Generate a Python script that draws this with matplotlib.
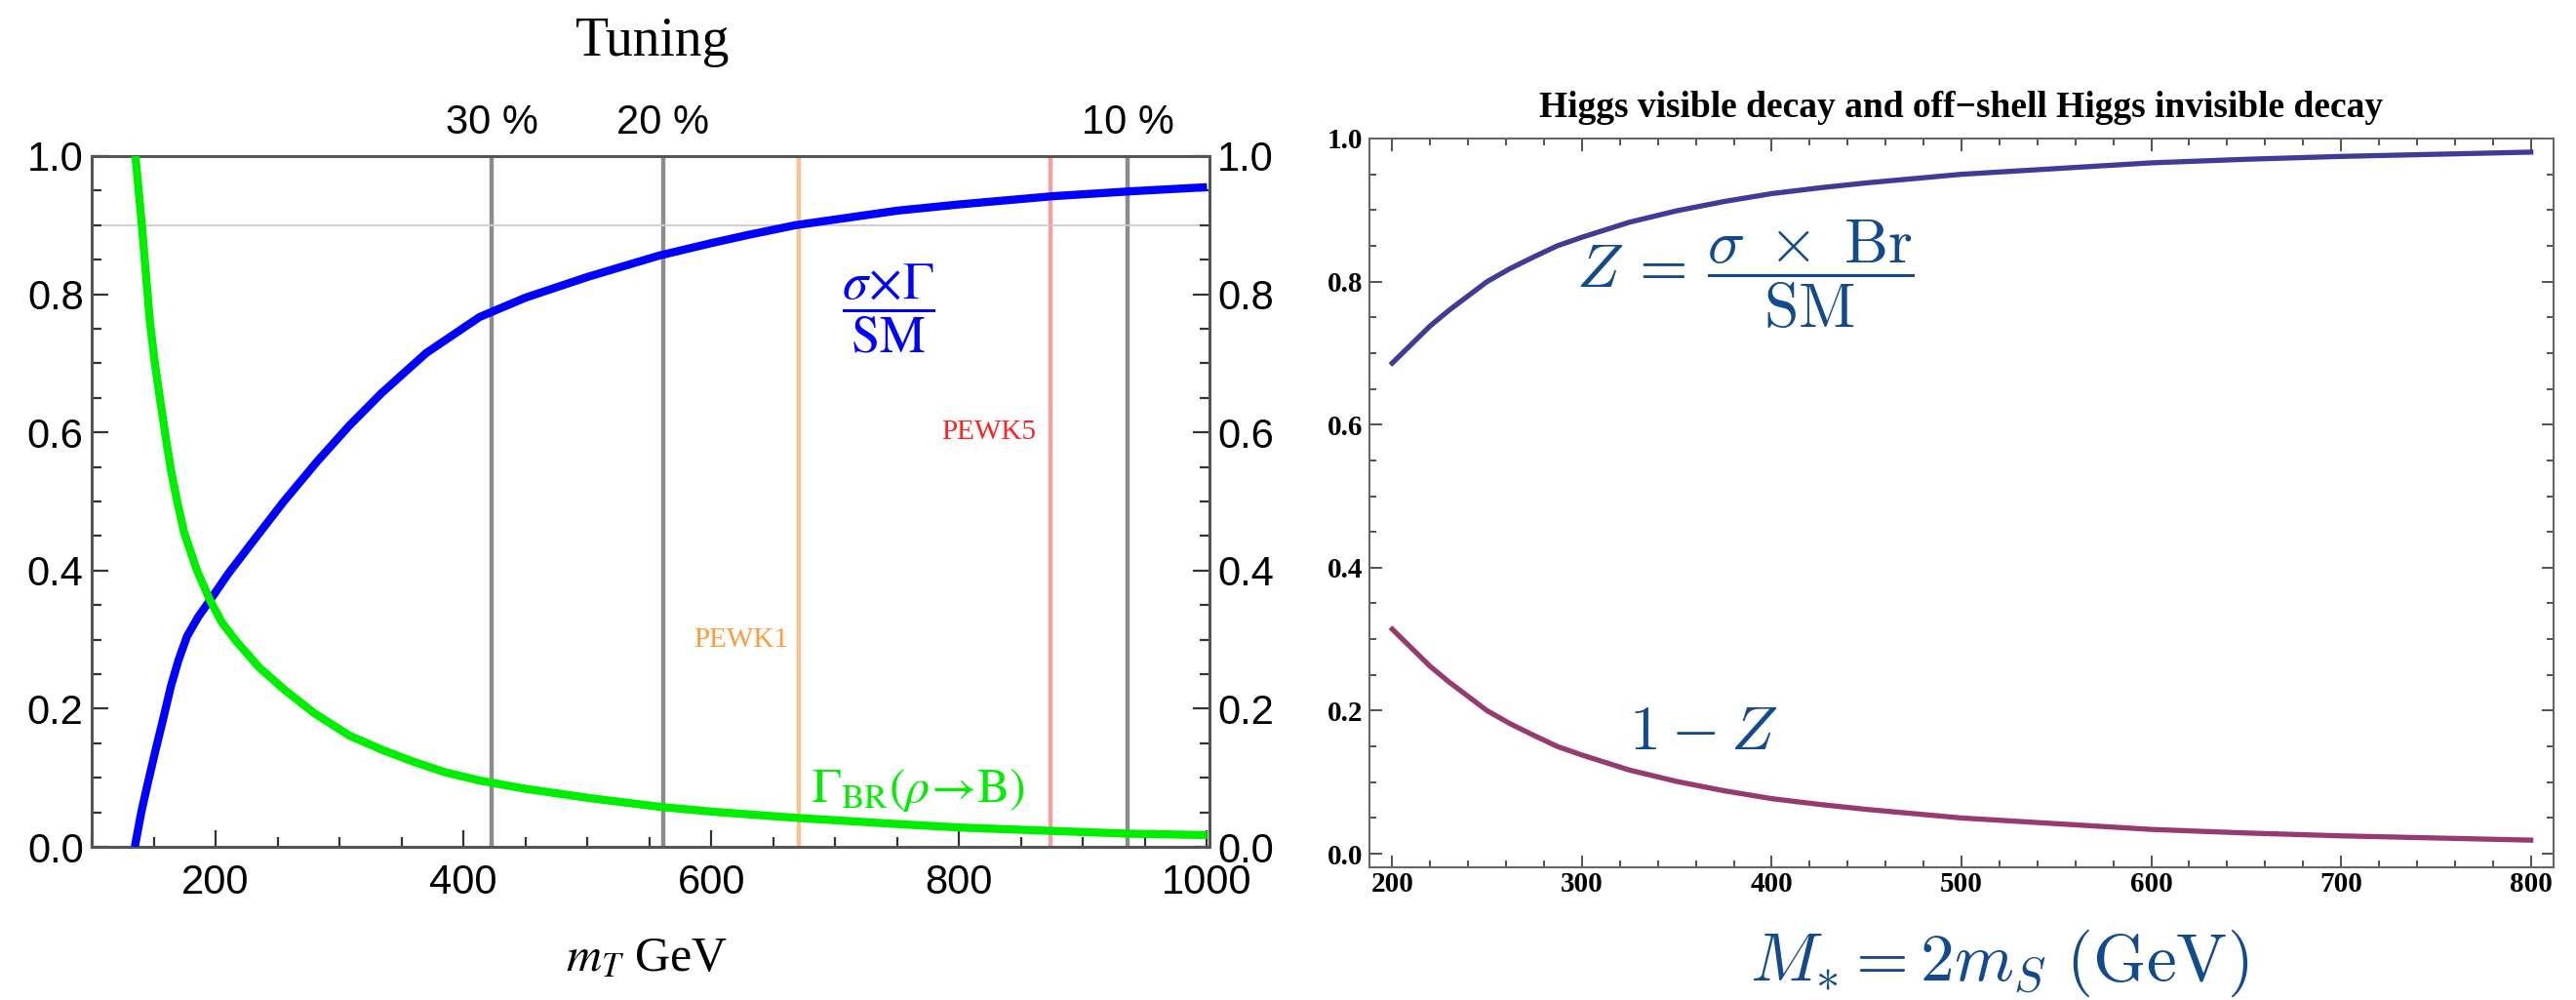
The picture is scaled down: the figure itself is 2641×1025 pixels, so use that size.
import matplotlib
matplotlib.use('Agg')
import matplotlib.pyplot as plt
from matplotlib.ticker import MultipleLocator

# ---- left panel data ----
mT_sigma = [134.8, 140, 145, 151, 157, 164, 170, 177, 186, 195.5, 210, 229.6,
            255, 282, 308, 334, 370, 413, 450, 500, 558, 600, 630, 668, 750,
            800, 876, 938, 1000]
sigma_gamma = [0.0, 0.05, 0.09, 0.136, 0.18, 0.233, 0.27, 0.305, 0.333, 0.357,
               0.395, 0.441, 0.50, 0.558, 0.61, 0.657, 0.715, 0.767, 0.795,
               0.825, 0.856, 0.874, 0.886, 0.90, 0.921, 0.930, 0.942, 0.949,
               0.955]

mT_br = [135.3, 140.5, 147, 151, 155, 160, 164, 169, 174.6, 185, 195.5, 205,
         216.5, 235, 255.8, 280, 308, 335, 360, 385, 413, 450, 500, 558, 600,
         668, 750, 800, 876, 938, 1000]
gamma_br = [1.0, 0.90, 0.76, 0.70, 0.65, 0.59, 0.545, 0.50, 0.455, 0.40,
            0.357, 0.325, 0.298, 0.26, 0.227, 0.193, 0.161, 0.14, 0.123,
            0.108, 0.096, 0.084, 0.071, 0.058, 0.051, 0.042, 0.033, 0.028,
            0.023, 0.019, 0.017]

tuning_x = [423, 561, 936]
tuning_labels = ['30 %', '20 %', '10 %']
pewk_x = [671, 874]
pewk_labels = ['PEWK1', 'PEWK5']
pewk_y = [0.30, 0.60]

# ---- right panel data ----
m_star = [200, 210, 220, 230, 240, 250, 262, 275, 287, 300, 325, 350, 375,
          400, 425, 450, 475, 500, 550, 600, 650, 700, 750, 800]
z_vis = [0.686, 0.712, 0.738, 0.760, 0.780, 0.80, 0.818, 0.835, 0.850, 0.862,
         0.883, 0.899, 0.912, 0.923, 0.931, 0.938, 0.944, 0.950, 0.958, 0.966,
         0.971, 0.975, 0.978, 0.981]
one_minus_z = [0.314, 0.288, 0.262, 0.240, 0.220, 0.20, 0.182, 0.165, 0.150,
               0.138, 0.117, 0.101, 0.088, 0.077, 0.069, 0.062, 0.056, 0.050,
               0.042, 0.034, 0.029, 0.025, 0.022, 0.019]

W, H = 2641, 1025
fig = plt.figure(figsize=(W / 100, H / 100), dpi=100)

# ================= left panel =================
ax = fig.add_axes([94 / W, 1 - 868 / H, (1240 - 94) / W, (868 - 160) / H])
ax.set_xlim(100, 1002)
ax.set_ylim(0, 1.0)

for x in tuning_x:
    ax.axvline(x, color='#8c8c8c', lw=3.2, zorder=1)
ax.axvline(pewk_x[0], color='#ffc08a', lw=3.2, zorder=1)
ax.axvline(pewk_x[1], color='#f4a0a0', lw=3.2, zorder=1)
ax.axhline(0.9, color='#cccccc', lw=1.3, zorder=1)

ax.plot(mT_sigma, sigma_gamma, color='#0000ff', lw=6, zorder=3,
        solid_capstyle='butt', solid_joinstyle='round')
ax.plot(mT_br, gamma_br, color='#00ee00', lw=6, zorder=3,
        solid_capstyle='butt', solid_joinstyle='round')

ax.xaxis.set_major_locator(MultipleLocator(200))
ax.xaxis.set_minor_locator(MultipleLocator(50))
ax.yaxis.set_major_locator(MultipleLocator(0.2))
ax.yaxis.set_minor_locator(MultipleLocator(0.05))
ax.tick_params(which='both', direction='in', right=True, labelright=True,
               color='#333333', width=1.6)
ax.tick_params(which='major', length=12)
ax.tick_params(which='minor', length=7)
ax.tick_params(axis='y', pad=6)
ax.tick_params(axis='x', pad=12)
for lab in ax.get_xticklabels() + ax.get_yticklabels():
    lab.set_fontfamily('Liberation Sans')
    lab.set_fontsize(30)
for sp in ax.spines.values():
    sp.set_color('#555555')
    sp.set_linewidth(2.2)

for x, lab in zip(tuning_x, tuning_labels):
    ax.text(x, 1.033, lab, transform=ax.get_xaxis_transform(),
            ha='center', va='baseline', fontsize=30, family='Liberation Sans')

ax.text(pewk_x[0] - 9, pewk_y[0], pewk_labels[0], color='#ff9a3c',
        fontsize=21, family='Liberation Serif', ha='right', va='center')
ax.text(pewk_x[1] - 12, pewk_y[1], pewk_labels[1], color='#ff2020',
        fontsize=21, family='Liberation Serif', ha='right', va='center')

ax.text(743, 0.78, r'$\dfrac{\sigma\!\times\!\Gamma}{\mathrm{SM}}$',
        color='#0000ff', fontsize=38, math_fontfamily='stix',
        ha='center', va='center')
ax.text(681, 0.065, r'$\Gamma_{\mathrm{BR}}(\rho\!\rightarrow\!\mathrm{B})$',
        color='#00ee00', fontsize=36, math_fontfamily='stix',
        ha='left', va='baseline')

fig.text(669 / W, 1 - 57 / H, 'Tuning', fontsize=40,
         family='Liberation Serif', ha='center', va='baseline')
fig.text(663 / W, 1 - 995 / H, r'$m_T$ GeV', fontsize=36,
         family='Liberation Serif', math_fontfamily='stix',
         ha='center', va='baseline')

# ================= right panel =================
bx = fig.add_axes([1404 / W, 1 - 889 / H, (2618 - 1404) / W, (889 - 142) / H])
bx.set_xlim(188, 812)
bx.set_ylim(-0.019, 1.0)

bx.plot(m_star, z_vis, color='#3e3c97', lw=3.8, solid_joinstyle='round')
bx.plot(m_star, one_minus_z, color='#963a70', lw=3.8, solid_joinstyle='round')

bx.xaxis.set_major_locator(MultipleLocator(100))
bx.xaxis.set_minor_locator(MultipleLocator(20))
bx.yaxis.set_major_locator(MultipleLocator(0.2))
bx.yaxis.set_minor_locator(MultipleLocator(0.05))
bx.tick_params(which='both', direction='in', top=True, right=True,
               color='#333333', width=1.2)
bx.tick_params(which='major', length=9)
bx.tick_params(which='minor', length=5)
bx.tick_params(axis='x', pad=3)
bx.tick_params(axis='y', pad=5)
for lab in bx.get_xticklabels() + bx.get_yticklabels():
    lab.set_fontfamily('Liberation Serif')
    lab.set_fontweight('bold')
    lab.set_fontsize(21)
for sp in bx.spines.values():
    sp.set_color('#666666')
    sp.set_linewidth(1.5)

bx.set_title('Higgs visible decay and off\u2212shell Higgs invisible decay',
             fontsize=27, fontweight='bold', family='Liberation Serif', pad=16)

label_blue = '#124a8c'
bx.text(297, 0.81, r'$Z\,=\,\dfrac{\sigma\;\times\;\mathrm{Br}}{\mathrm{SM}}$',
        color=label_blue, fontsize=46, math_fontfamily='cm',
        ha='left', va='center')
bx.text(364, 0.17, r'$1-Z$', color=label_blue, fontsize=46,
        math_fontfamily='cm', ha='center', va='center')
fig.text(2050 / W, 1 - 1005 / H, r'$M_{*}=2m_S\ (\mathrm{GeV})$',
         color=label_blue, fontsize=50, math_fontfamily='cm',
         ha='center', va='baseline')

fig.savefig('out.png', dpi=100)
